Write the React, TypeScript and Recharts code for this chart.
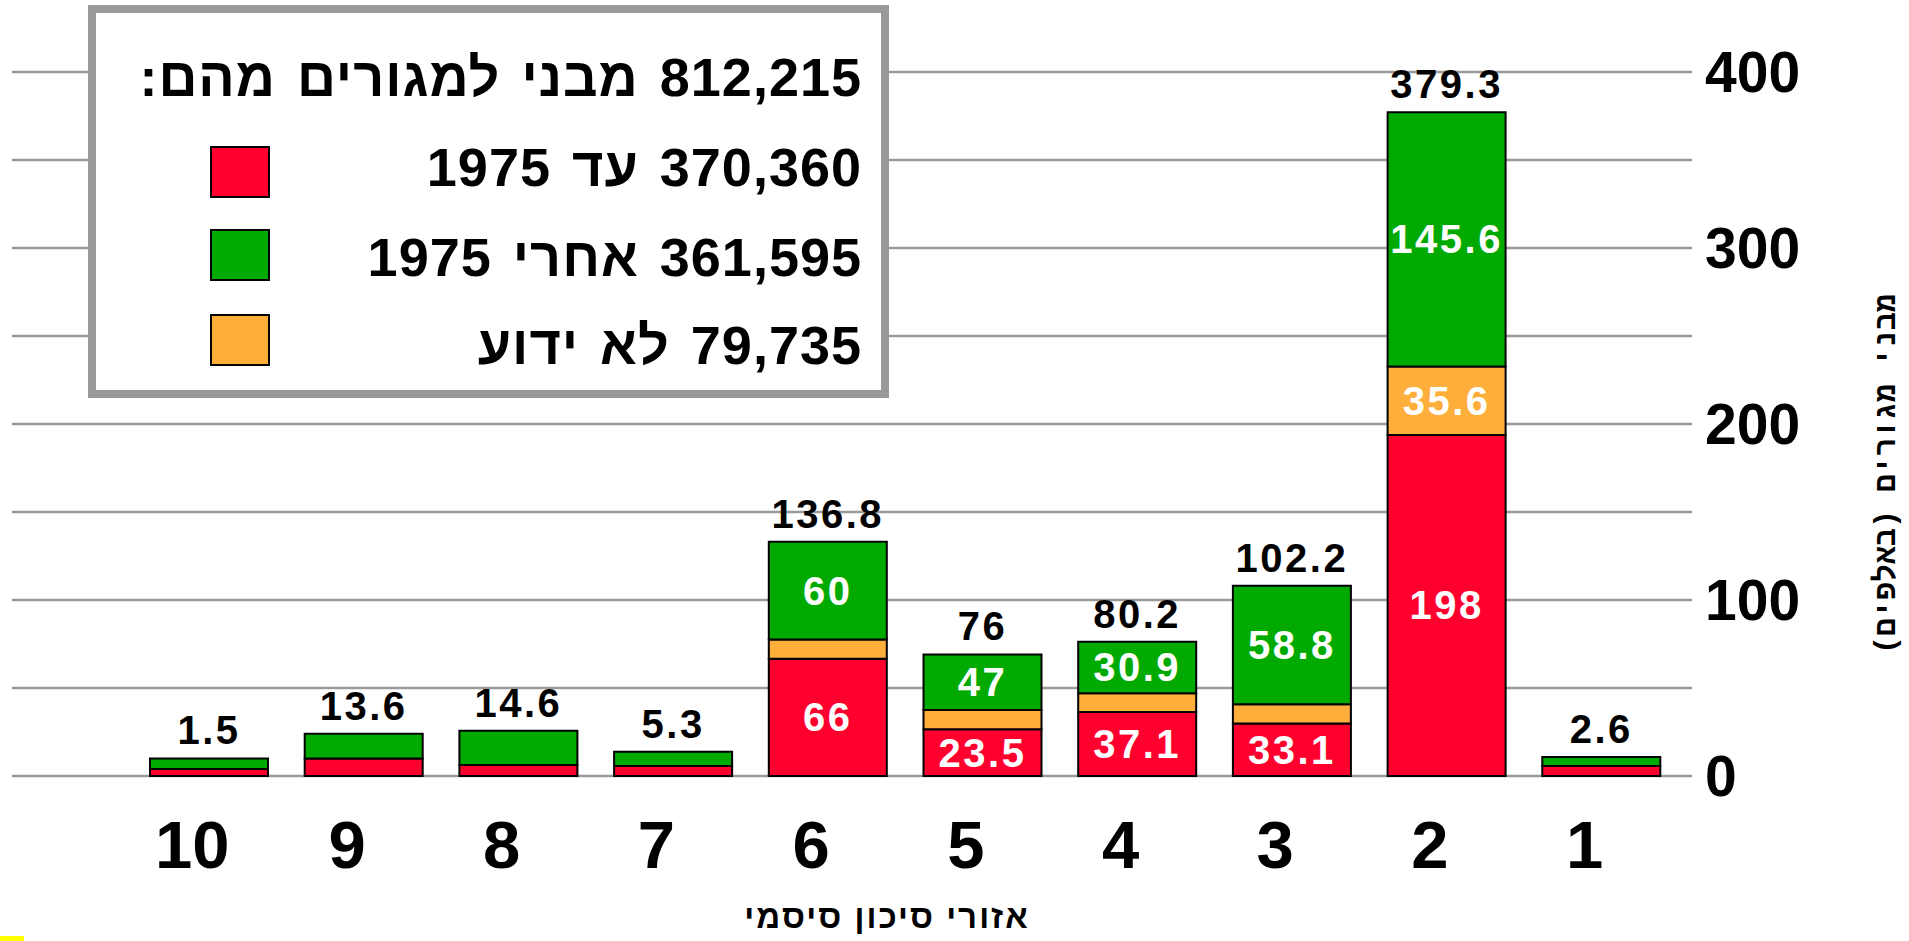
import React from "react";
import {
  Bar,
  BarChart,
  CartesianGrid,
  LabelList,
  Legend,
  XAxis,
  YAxis,
} from "recharts";

const zones = ["10", "9", "8", "7", "6", "5", "4", "3", "2", "1"];
// segment heights as drawn (thousands of buildings)
const before1975 = [4, 10, 6.2, 5.7, 66.6, 26.5, 36.4, 29.9, 193.8, 5.7];
const unknownYear = [0, 0, 0, 0, 11, 11, 10.6, 10.8, 38.8, 0];
const after1975 = [6, 14, 19.5, 8.1, 55.5, 31.6, 29.3, 67.4, 144.5, 5.1];

// printed labels
const totalLabels = ["1.5", "13.6", "14.6", "5.3", "136.8", "76", "80.2", "102.2", "379.3", "2.6"];
const beforeLabels = ["", "", "", "", "66", "23.5", "37.1", "33.1", "198", ""];
const unknownLabels = ["", "", "", "", "", "", "", "", "35.6", ""];
const afterLabels = ["", "", "", "", "60", "47", "30.9", "58.8", "145.6", ""];

const yTicks = [0, 50, 100, 150, 200, 250, 300, 350, 400];

const legendTitle = "812,215 מבני למגורים מהם:";
const beforeName = "370,360 עד 1975";
const afterName = "361,595 אחרי 1975";
const unknownName = "79,735 לא ידוע";
const legendOrder = ["before", "after", "unknown"];

const xTitle = "אזורי סיכון סיסמי";
const yTitle = "מבני מגורים (באלפים)";

const RED = "#FF002E";
const GREEN = "#00AA00";
const ORANGE = "#FDAE3B";
const GRID = "#9a9a9a";
const FONT = '"Liberation Sans", Arial, sans-serif';

const data = zones.map((zone, i) => ({
  zone,
  before: before1975[i],
  unknown: unknownYear[i],
  after: after1975[i],
  beforeLabel: beforeLabels[i],
  unknownLabel: unknownLabels[i],
  afterLabel: afterLabels[i],
  totalLabel: totalLabels[i],
}));

function SegmentLabel(props: any) {
  const { x, y, width, height, value } = props;
  if (!value) return null;
  return (
    <text
      x={Number(x) + Number(width) / 2}
      y={Number(y) + Number(height) / 2}
      textAnchor="middle"
      dominantBaseline="central"
      fill="#fff"
      fontFamily={FONT}
      fontWeight={700}
      fontSize={40}
      letterSpacing={2.5}
    >
      {value}
    </text>
  );
}

function TotalLabel(props: any) {
  const { x, y, width, value } = props;
  return (
    <text
      x={Number(x) + Number(width) / 2}
      y={Number(y) - 28}
      textAnchor="middle"
      dominantBaseline="central"
      fill="#000"
      fontFamily={FONT}
      fontWeight={700}
      fontSize={40}
      letterSpacing={2.5}
    >
      {value}
    </text>
  );
}

function ZoneTick({ x, y, payload }: any) {
  return (
    <text
      x={x - 17}
      y={y + 68}
      textAnchor="middle"
      dominantBaseline="central"
      fill="#000"
      fontFamily={FONT}
      fontWeight={700}
      fontSize={67}
    >
      {payload.value}
    </text>
  );
}

function ValueTick({ x, y, payload }: any) {
  if (payload.value % 100 !== 0) return null;
  return (
    <text
      x={x}
      y={y}
      textAnchor="start"
      dominantBaseline="central"
      fill="#000"
      fontFamily={FONT}
      fontWeight={700}
      fontSize={57}
    >
      {payload.value}
    </text>
  );
}

function XTitle({ viewBox }: any) {
  return (
    <text
      x={viewBox.x + viewBox.width / 2 + 35}
      y={viewBox.y + 140}
      textAnchor="middle"
      dominantBaseline="central"
      direction="rtl"
      fill="#000"
      fontFamily={FONT}
      fontWeight={700}
      fontSize={33}
      letterSpacing={2}
    >
      {xTitle}
    </text>
  );
}

function YTitle({ viewBox }: any) {
  const cx = viewBox.x + 195;
  const cy = viewBox.y + 402;
  return (
    <text
      x={cx}
      y={cy}
      transform={`rotate(-90 ${cx} ${cy})`}
      textAnchor="middle"
      dominantBaseline="central"
      direction="rtl"
      fill="#000"
      fontFamily='"Liberation Mono", monospace'
      fontWeight={700}
      fontSize={30}
    >
      {yTitle}
    </text>
  );
}

function LegendBox({ payload }: any) {
  const items = legendOrder
    .map((key) => (payload || []).find((p: any) => p.dataKey === key))
    .filter(Boolean);
  const lineTops = [124, 214, 302];
  const swatchTops = [133, 216, 301];
  const lineStyle = {
    position: "absolute" as const,
    right: 19,
    lineHeight: "60px",
    whiteSpace: "nowrap" as const,
  };
  return (
    <div
      style={{
        position: "relative",
        width: 801,
        height: 393,
        boxSizing: "border-box",
        border: "8px solid #999",
        background: "#fff",
        fontFamily: FONT,
        fontWeight: 700,
        fontSize: 54,
        letterSpacing: 1,
        wordSpacing: 5,
        color: "#000",
      }}
    >
      <div dir="rtl" style={{ ...lineStyle, top: 34 }}>
        {legendTitle}
      </div>
      {items.map((entry: any, i: number) => (
        <React.Fragment key={entry.dataKey}>
          <div
            style={{
              position: "absolute",
              left: 114,
              top: swatchTops[i],
              width: 60,
              height: 52,
              boxSizing: "border-box",
              border: "2px solid #000",
              background: entry.color,
            }}
          />
          <div dir="rtl" style={{ ...lineStyle, top: lineTops[i] }}>
            {entry.value}
          </div>
        </React.Fragment>
      ))}
    </div>
  );
}

function XTitleWrap(props: any) {
  return <XTitle viewBox={props.viewBox} />;
}

function YTitleWrap(props: any) {
  return <YTitle viewBox={props.viewBox} />;
}

export default function App() {
  return (
    <div
      style={{
        position: "absolute",
        left: 0,
        top: 0,
        width: 1909,
        height: 941,
        background: "#fff",
        overflow: "hidden",
      }}
    >
      <BarChart
        width={1909}
        height={941}
        data={data}
        margin={{ top: 72, right: 0, left: 12, bottom: 15 }}
      >
        <CartesianGrid vertical={false} stroke={GRID} strokeWidth={2.5} />
        <XAxis
          dataKey="zone"
          height={150}
          axisLine={false}
          tickLine={false}
          tickSize={0}
          tickMargin={0}
          interval={0}
          padding={{ left: 120, right: 13 }}
          tick={<ZoneTick />}
          label={<XTitleWrap />}
        />
        <YAxis
          orientation="right"
          type="number"
          width={217}
          domain={[0, 400]}
          ticks={yTicks}
          interval={0}
          axisLine={false}
          tickLine={false}
          tickSize={0}
          tickMargin={13}
          tick={<ValueTick />}
          label={<YTitleWrap />}
        />
        <Legend
          layout="vertical"
          align="center"
          verticalAlign="middle"
          content={<LegendBox />}
          wrapperStyle={{ left: 88, top: 5, width: 801, height: 393 }}
        />
        <Bar
          dataKey="before"
          name={beforeName}
          stackId="a"
          fill={RED}
          stroke="#000"
          strokeWidth={2}
          barSize={118}
          isAnimationActive={false}
        >
          <LabelList dataKey="beforeLabel" content={<SegmentLabel />} />
        </Bar>
        <Bar
          dataKey="unknown"
          name={unknownName}
          stackId="a"
          fill={ORANGE}
          stroke="#000"
          strokeWidth={2}
          barSize={118}
          isAnimationActive={false}
        >
          <LabelList dataKey="unknownLabel" content={<SegmentLabel />} />
        </Bar>
        <Bar
          dataKey="after"
          name={afterName}
          stackId="a"
          fill={GREEN}
          stroke="#000"
          strokeWidth={2}
          barSize={118}
          isAnimationActive={false}
        >
          <LabelList dataKey="afterLabel" content={<SegmentLabel />} />
          <LabelList dataKey="totalLabel" content={<TotalLabel />} />
        </Bar>
      </BarChart>
      <div
        style={{
          position: "absolute",
          left: 0,
          top: 936,
          width: 24,
          height: 5,
          background: "#FFFF00",
        }}
      />
    </div>
  );
}
